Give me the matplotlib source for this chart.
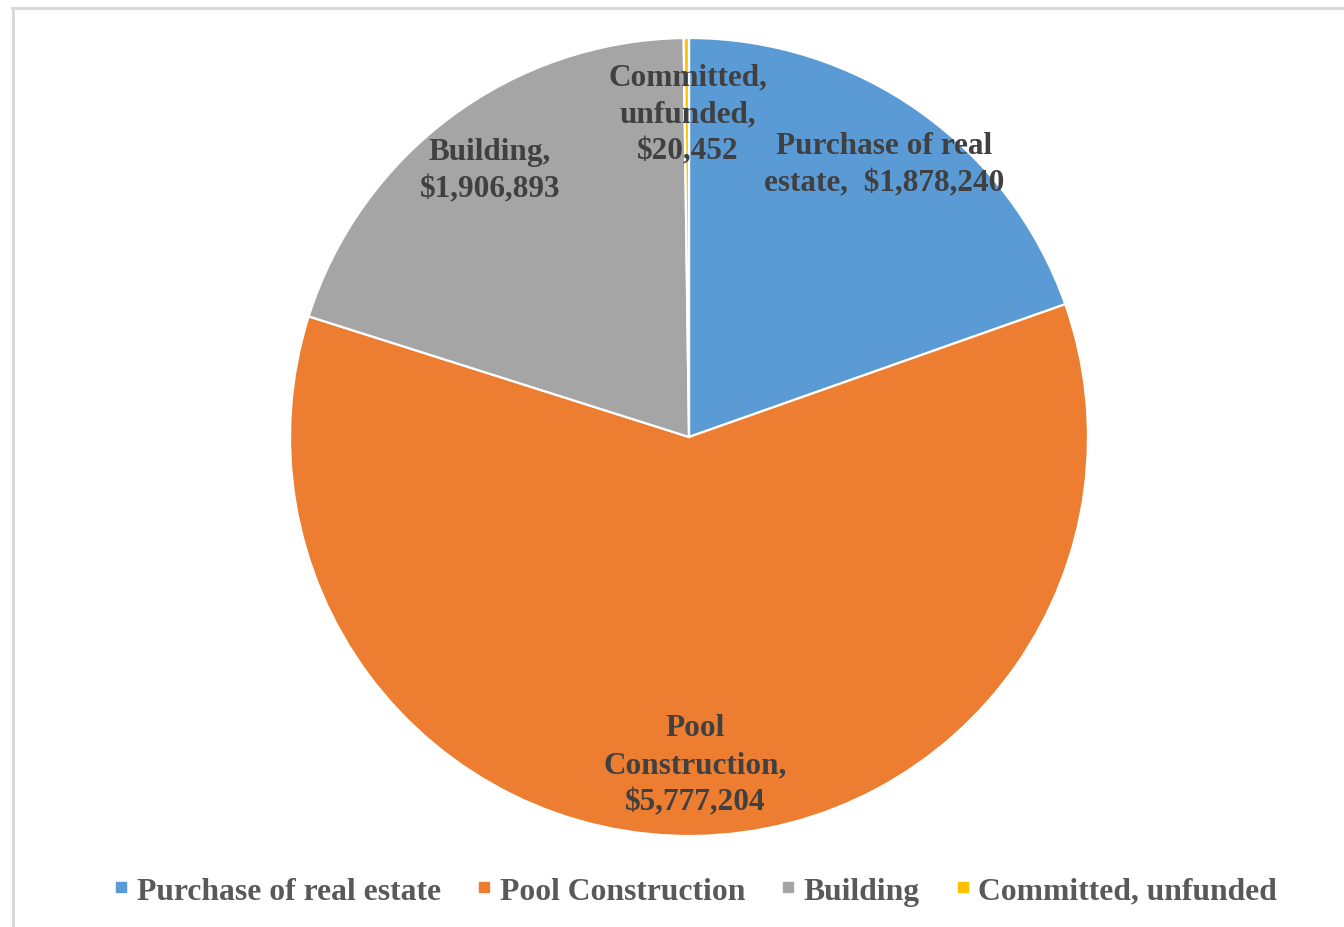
import matplotlib
matplotlib.use("Agg")
import matplotlib.pyplot as plt
from matplotlib.lines import Line2D

categories = ["Purchase of real estate", "Pool Construction", "Building", "Committed, unfunded"]
values = [1878240, 5777204, 1906893, 20452]
label_texts = ["Purchase of real\nestate,  $1,878,240",
               "Pool\nConstruction,\n$5,777,204",
               "Building,\n$1,906,893",
               "Committed,\nunfunded,\n$20,452"]
colors = ["#5B9BD5", "#ED7D31", "#A5A5A5", "#FFC000"]
label_pos = [(0.489, 0.684), (0.015, -0.822), (-0.499, 0.669), (-0.0025, 0.81)]

W, H = 1344, 928
fig = plt.figure(figsize=(W / 100, H / 100), dpi=100)
fig.patch.set_facecolor("white")

# frame lines
fig.add_artist(Line2D([12 / W, 1], [1 - 9 / H, 1 - 9 / H], color="#D9D9D9", lw=2.2, transform=fig.transFigure))
fig.add_artist(Line2D([13 / W, 13 / W], [0, 1 - 9 / H], color="#D9D9D9", lw=2.2, transform=fig.transFigure))

cx, cy, r = 689, 438, 399
ax = fig.add_axes([(cx - r) / W, 1 - (cy + r) / H, 2 * r / W, 2 * r / H])
wedges, _ = ax.pie(values, colors=colors, startangle=90, counterclock=False,
                   wedgeprops=dict(edgecolor="white", linewidth=1.6), radius=1)
ax.set_xlim(-1, 1)
ax.set_ylim(-1, 1)
ax.set_aspect("auto")
ax.axis("off")

font = dict(family="Liberation Serif", weight="bold", size=22.5)
for txt, (x, y) in zip(label_texts, label_pos):
    ax.text(x, y, txt, ha="center", va="center", color="#404040", linespacing=1.38, **font)

handles = [Line2D([], [], marker="s", linestyle="", color=c, markersize=7.5) for c in colors]
fig.legend(handles, categories, loc="center", bbox_to_anchor=(696 / W, 1 - 892 / H), ncol=4,
           frameon=False, prop=dict(family="Liberation Serif", weight="bold", size=22.8),
           labelcolor="#595959", handlelength=0.4, handletextpad=0.3, columnspacing=1.15,
           borderaxespad=0)

fig.savefig("out.png", dpi=100, facecolor="white")
